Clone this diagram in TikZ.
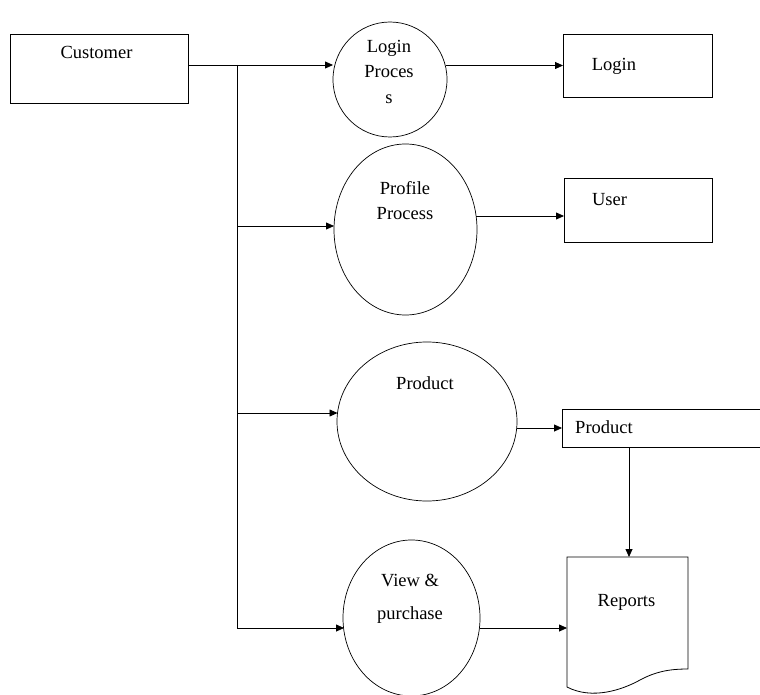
\documentclass[tikz,border=0pt]{standalone}
\usepackage{fontspec}
\setmainfont{Liberation Serif}
\usetikzlibrary{shapes.geometric,arrows.meta,positioning}

\tikzset{
  proc/.style={ellipse, draw, line width=0.7pt, inner sep=0pt, outer sep=0pt},
  store/.style={rectangle, draw, line width=0.8pt, inner sep=0pt, outer sep=0pt},
  flow/.style={-{Triangle[length=8pt,width=7pt]}, line width=0.8pt},
  lbl/.style={font=\fontsize{18.5}{25.5}\selectfont, align=center, inner sep=0pt}
}

\begin{document}
\begin{tikzpicture}[x=1pt,y=-1pt]
  \useasboundingbox (0,0) rectangle (760,695);

  % entities and stores
  \node [store, minimum width=178pt, minimum height=69pt] (customer) at (99,68.5) {};
  \node [store, minimum width=149pt, minimum height=63pt] (loginbox) at (637.5,65.5) {};
  \node [store, minimum width=148pt, minimum height=64pt] (userbox) at (638,210) {};
  \node [store, minimum width=230pt, minimum height=38pt] (productbox) at (677,428) {};

  % processes
  \node [proc, minimum width=114pt, minimum height=115pt] (loginp) at (390,79.5) {};
  \node [proc, minimum width=143pt, minimum height=171pt] (profilep) at (405.5,229.5) {};
  \node [proc, minimum width=180pt, minimum height=159pt] (productp) at (427,421.5) {};
  \node [proc, minimum width=137pt, minimum height=156pt] (viewp) at (411.5,618) {};

  % report document
  \draw [line width=0.8pt] (567,557) -- (688,557) -- (688,669)
        .. controls (668,669) and (655,672) .. (640,680)
        .. controls (622,690) and (592,700) .. (567,687) -- cycle;
  \coordinate (reptop) at (629,557);
  \coordinate (repwest) at (567,628);

  % % % % % % % % % % % % % % % % % % % % % % % % % %

  \node [lbl] (customertxt) at (96.5,52) {Customer};
  \node [lbl] (logintxt) at (389,71.5) {Login\\Proces\\s};
  \node [lbl] (profiletxt) at (405,200.5) {Profile\\Process};
  \node [lbl] (producttxt) at (425,383) {Product};
  \node [lbl] (viewtxt) at (410,599) {View \&\\[8pt]purchase};
  \node [lbl] (loginboxtxt) at (614,66) {Login};
  \node [lbl] (userboxtxt) at (609.5,200) {User};
  \node [lbl] (productboxtxt) at (604,427) {Product};
  \node [lbl] (reportstxt) at (626.5,602) {Reports};

  % trunk from customer
  \coordinate (j0) at (237,65);
  \coordinate (j1) at (237,226);
  \coordinate (j2) at (237,413);
  \coordinate (j3) at (237,628);

  \draw [flow] (customer.east |- j0) -- (loginp.west |- j0);
  \draw [line width=0.8pt] (j0) -- (j3);
  \draw [flow] (j1) -- (profilep.west |- j1);
  \draw [flow] (j2) -- ([xshift=0.5pt]productp.west |- j2);
  \draw [flow] (j3) -- ([xshift=1pt]viewp.west |- j3);

  % outputs
  \draw [flow] ([xshift=-1.5pt]loginp.east |- loginbox.west) -- (loginbox.west);
  \draw [flow] ([xshift=-1pt]profilep.east |- 0,216) -- (userbox.west |- 0,216);
  \draw [flow] (productp.east |- productbox.west) -- (productbox.west);
  \draw [flow] (productbox.south -| reptop) -- (reptop);
  \draw [flow] (viewp.east |- repwest) -- (repwest);
\end{tikzpicture}
\end{document}
